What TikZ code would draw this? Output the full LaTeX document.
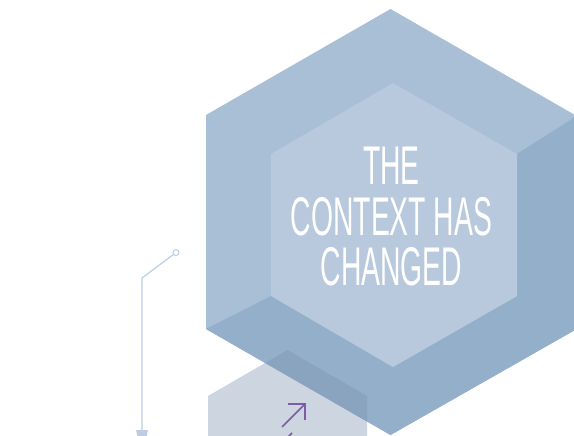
\documentclass[tikz,border=0pt]{standalone}
\usepackage{fontspec}
\newfontfamily\condfont[FakeStretch=0.52]{Liberation Sans}
\definecolor{outerblue}{HTML}{A8BFD6}
\definecolor{facetblue}{HTML}{94AFCA}
\definecolor{innerblue}{HTML}{B8C9DD}
\definecolor{smallhex}{RGB}{124,145,174}
\definecolor{wire}{HTML}{BDCCE1}
\definecolor{arrowpurple}{HTML}{7D5BA6}
\begin{document}
\begin{tikzpicture}[x=1pt,y=-1pt,
  wireline/.style={draw=wire,line width=1.2pt},
  purplearrow/.style={draw=arrowpurple,line width=1.6pt}]
\useasboundingbox (0,0) rectangle (574,436);
\clip (0,0) rectangle (574,436);
% outer hexagon
\fill[outerblue] (390.5,9) -- (575,115) -- (575,330) -- (390.5,435) -- (206,329) -- (206,115) -- cycle;
% darker lower/right facets
\fill[facetblue] (206,329) -- (271,296) -- (393,367) -- (517,296) -- (517,154) -- (575,117) -- (575,330) -- (390.5,435) -- cycle;
% inner hexagon
\fill[innerblue] (393,83) -- (517,154) -- (517,296) -- (393,367) -- (271,296) -- (271,154) -- cycle;
% lower small hexagon (translucent)
\fill[smallhex,opacity=0.38] (287.5,350) -- (367,396) -- (367,488) -- (287.5,534) -- (208,488) -- (208,396) -- cycle;
% title
\node[text=white,font=\condfont\fontsize{54.5}{50.5}\selectfont,align=center,anchor=center] (title) at (391.5,217) {THE\\CONTEXT HAS\\CHANGED};
% connector
\node[circle,draw=wire,line width=1pt,fill=white,minimum size=6pt,inner sep=0pt] (knob) at (176,252.5) {};
\coordinate (bend) at (142,278);
\coordinate (foot) at (142,431);
\draw[wireline] (knob) -- (bend) -- (foot);
\fill[wire] (136,430) -- (148,430) -- (146.5,437) -- (137.5,437) -- cycle;
% purple arrows
\coordinate (a1s) at (282,427);
\coordinate (a1e) at (305,404);
\draw[purplearrow] (a1s) -- (a1e);
\draw[purplearrow,line join=miter] (288,404) -- (a1e) -- (305,420);
\coordinate (a2s) at (287,438);
\coordinate (a2e) at (292,433);
\draw[purplearrow] (a2s) -- (a2e);
\end{tikzpicture}
\end{document}
